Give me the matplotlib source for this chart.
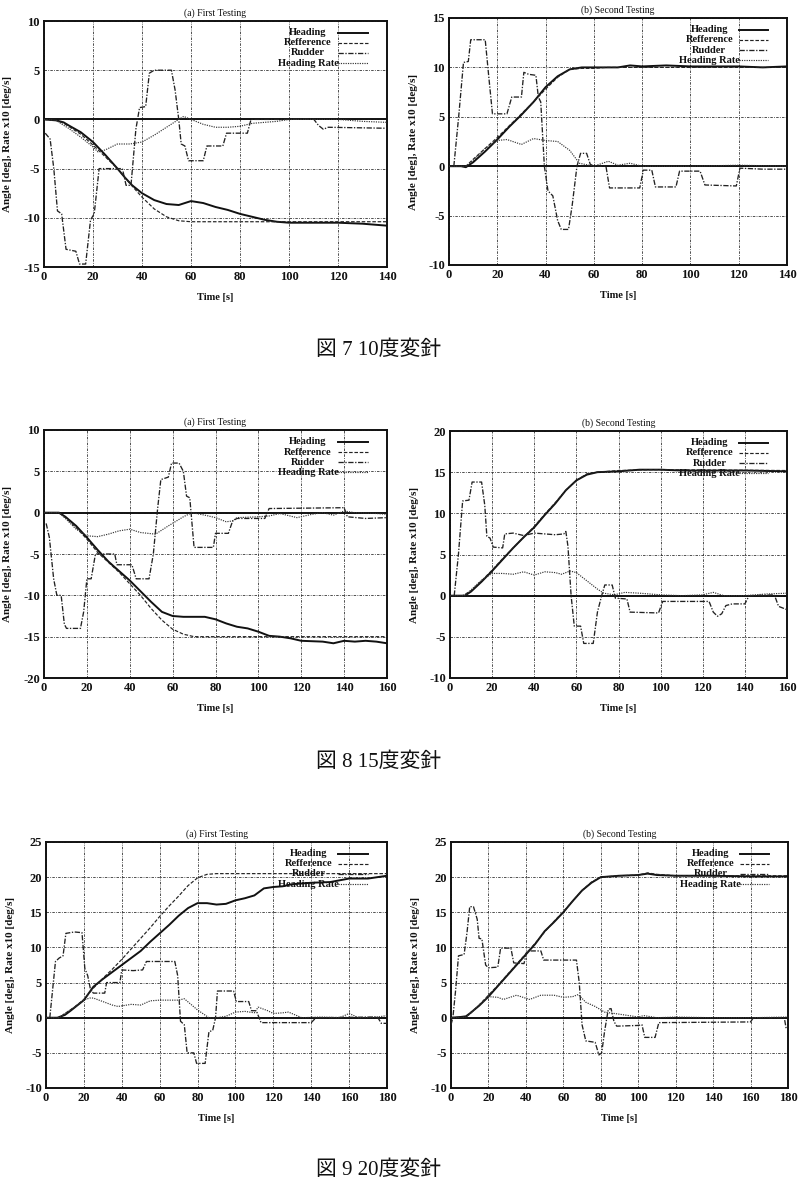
import matplotlib
matplotlib.use("Agg")
import matplotlib.pyplot as plt

plt.rcParams['font.family'] = ['Liberation Serif', 'Noto Sans CJK JP', 'DejaVu Sans']
plt.rcParams['axes.unicode_minus'] = False

# ---------------- DATA ----------------
# Panel 1: 10 deg, first testing
p1_head_t = [0,5,8,10,15,20,25,30,33,36,40,45,50,55,60,65,70,75,80,85,90,95,100,110,120,130,140]
p1_head_y = [0,-0.1,-0.3,-0.6,-1.3,-2.3,-3.6,-5.0,-5.9,-6.7,-7.5,-8.2,-8.6,-8.7,-8.3,-8.5,-8.9,-9.2,-9.6,-9.9,-10.2,-10.4,-10.5,-10.5,-10.5,-10.6,-10.8]
p1_ref_t = [0,5,8,10,15,20,25,30,35,40,45,50,55,60,80,100,120,140]
p1_ref_y = [0,-0.1,-0.4,-0.7,-1.5,-2.6,-3.8,-5.0,-6.5,-7.9,-9.1,-9.9,-10.3,-10.4,-10.4,-10.4,-10.4,-10.4]
p1_rud_t = [0.5,2.5,4,5.5,7.2,9,13,14.5,17,19,20.5,22.5,32,33.5,35.5,37.5,39,41.5,43,45,52,53.5,55,56,57.5,59,65,66.5,73,74.5,83,84.5,100,110,112,114,116,140]
p1_rud_y = [-1.4,-2.0,-5,-9.3,-9.6,-13.2,-13.4,-14.7,-14.7,-10.2,-9.6,-5.0,-5.0,-6.7,-6.7,-1,1.2,1.3,4.7,5.0,5.0,3,0,-2.5,-2.7,-4.2,-4.2,-2.7,-2.7,-1.4,-1.4,0,0,0.05,-0.6,-1.0,-0.8,-0.9]
p1_rate_t = [0,5,8,10,15,20,22,25,30,35,40,45,50,55,57,60,65,70,75,80,85,90,95,100,110,120,130,140]
p1_rate_y = [0,-0.1,-0.6,-0.9,-1.8,-2.8,-3.3,-3.1,-2.5,-2.5,-2.3,-1.6,-0.8,0,0.3,0,-0.5,-0.8,-0.8,-0.7,-0.4,-0.3,-0.2,0,0,0,-0.2,-0.3]

# Panel 2: 10 deg, second testing
p2_head_t = [0,5,7,10,15,20,25,30,35,40,45,50,55,60,70,75,80,90,100,120,130,140]
p2_head_y = [0,0,-0.1,0.4,1.5,2.7,4.0,5.2,6.5,8.0,9.1,9.8,10.0,10.0,10.0,10.2,10.1,10.2,10.1,10.1,10.0,10.1]
p2_ref_t = [0,7,10,15,20,25,30,35,40,45,50,55,60,65,140]
p2_ref_y = [0,0,0.7,1.8,2.9,4.1,5.3,6.5,7.8,9.0,9.8,9.9,9.9,10,10]
p2_rud_t = [2,4,6,8,9,15,16.5,18,24,26,30,31,33,36,37,38,39.5,41,43,45,46.5,49.5,51,53,54.5,57,58.5,60,65,66.5,79,80.5,84,85.5,94,95.5,104,106,119,120.5,130,140]
p2_rud_y = [0,5,10.5,10.6,12.8,12.8,9,5.3,5.3,7,7,9.5,9.3,9.2,7,6.5,0,-2.5,-3.0,-5.5,-6.4,-6.4,-4,0,1.3,1.3,0.2,0,0,-2.2,-2.2,-0.4,-0.4,-2.1,-2.1,-0.5,-0.5,-1.9,-2.0,-0.2,-0.3,-0.3]
p2_rate_t = [0,7,10,15,20,24,30,35,40,45,50,54,60,66,70,75,80,100,120,140]
p2_rate_y = [0,0,0.6,1.8,2.6,2.7,2.2,2.8,2.6,2.5,1.6,0.3,0,0.5,0.1,0.3,0,0,0.1,0]

# Panel 3: 15 deg, first testing
p3_head_t = [0,7,10,15,20,25,30,33,40,45,50,55,60,65,75,80,85,90,95,100,105,110,115,120,130,135,140,145,150,155,160]
p3_head_y = [0,0,-0.5,-1.6,-3.0,-4.5,-5.9,-6.6,-8.2,-9.5,-10.8,-12.0,-12.5,-12.6,-12.6,-12.9,-13.4,-13.8,-14.0,-14.4,-14.9,-15.0,-15.2,-15.5,-15.6,-15.8,-15.5,-15.6,-15.5,-15.6,-15.8]
p3_ref_t = [0,7,10,15,20,25,30,35,40,45,50,55,60,65,70,160]
p3_ref_y = [0,0,-0.6,-1.8,-3.2,-4.8,-6.0,-7.2,-8.6,-10.0,-11.6,-13.0,-14.1,-14.7,-15.0,-15.0]
p3_rud_t = [1,2.5,4.5,6,8,9.5,10.5,17,18.5,20,22,24,33,34,41,43,49,51,53,54.5,58,59.5,63,65,66.5,68,70,79,80,86,88,90,103,105,140,141.5,150,160]
p3_rud_y = [-1.3,-3,-8,-10,-10,-13.5,-14,-14,-12,-8,-8,-5,-5,-6.3,-6.3,-8,-8,-5,0.5,4,4.3,6,6,5,2,1.8,-4.2,-4.2,-2.5,-2.5,-1,-0.7,-0.7,0.5,0.6,-0.5,-0.7,-0.6]
p3_rate_t = [0,7,10,15,20,25,30,35,40,45,52,58,65,69,75,80,85,88,90,100,105,110,118,125,130,135,140,145,155,160]
p3_rate_y = [0,0,-0.7,-2.0,-2.8,-2.9,-2.6,-2.2,-2.0,-2.4,-2.6,-1.6,-0.5,0,-0.3,-0.6,-1.1,-1.0,-0.6,-0.5,-0.4,-0.1,-0.6,-0.2,0,-0.3,0.2,0,-0.1,-0.2]

# Panel 4: 15 deg, second testing
p4_head_t = [0,7,10,15,20,25,30,35,40,45,50,55,60,65,70,80,90,100,110,120,140,160]
p4_head_y = [0,0,0.5,1.7,3.0,4.4,5.8,7.1,8.3,9.8,11.2,12.8,14.0,14.7,15.0,15.1,15.3,15.3,15.2,15.2,15.2,15.1]
p4_ref_t = [0,6,10,15,20,25,30,35,40,45,50,55,60,65,70,80,95,100,160]
p4_ref_y = [0,0,0.6,1.8,3.1,4.5,5.8,7.1,8.4,9.9,11.3,12.8,14.0,14.8,15.0,15.2,15.3,15.3,15.2]
p4_rud_t = [2,4,6,9,10.5,15,16.5,17.5,19,20.5,25,26,30,35,40,45,50,54,55,56,57.5,59,62,63.5,68,70,72,73.5,77,78.5,84,85.5,99,101,123,125,127,129,131,134,140,142,154,156,160]
p4_rud_y = [0,5,11.5,11.6,13.8,13.8,11,7.2,7,5.9,5.8,7.5,7.6,7.3,7.6,7.5,7.4,7.5,7.8,6,0,-3.7,-3.7,-5.8,-5.8,-2,0,1.3,1.3,-0.3,-0.4,-2.0,-2.1,-0.7,-0.7,-2.0,-2.5,-2.2,-1.2,-1.0,-1.0,0,0.1,-1.3,-1.7]
p4_rate_t = [0,7,10,15,20,25,30,35,40,45,50,53,57,60,65,70,73,78,83,90,100,110,120,125,130,140,150,160]
p4_rate_y = [0,0,0.7,1.9,2.7,2.7,2.6,2.9,2.5,2.9,2.8,2.6,3.0,2.8,1.8,0.8,0.3,0.1,0.4,0.3,0.1,0,0.1,0.4,0,0,0.2,0.3]

# Panel 5: 20 deg, first testing
p5_head_t = [0,6,10,13,20,25,30,35,40,45,50,55,60,65,70,75,80,85,90,95,100,105,110,115,120,125,130,140,150,160,170,180]
p5_head_y = [0,0,0.4,1.0,2.5,4.4,5.5,6.5,7.5,8.5,9.5,10.8,12.0,13.2,14.5,15.6,16.3,16.3,16.1,16.2,16.7,17.0,17.4,18.4,18.6,18.7,19.0,19.2,19.3,19.8,19.8,20.2]
p5_ref_t = [0,7,10,15,20,25,30,35,40,45,50,55,60,65,70,75,80,85,90,180]
p5_ref_y = [0,0,0.6,1.5,2.6,4.2,5.6,6.9,8.3,9.8,11.3,12.8,14.4,15.9,17.3,18.8,19.9,20.4,20.5,20.5]
p5_rud_t = [2,3.5,5,7,9,10.5,15,19,20.5,22,23.5,25,31,32,39,40,46,51,53,68,69.5,71,73,74.5,78,79.5,84,86,88,89.5,90.5,99,100.5,107,108.5,111,113.5,140,142.5,175,177,180]
p5_rud_y = [0,4,8,8.5,8.8,12,12.2,12.1,7,6,4,3.5,3.5,5,5,6.8,6.7,6.8,8,8,6,-0.5,-1,-5,-5,-6.5,-6.5,-2,-1.8,0,3.8,3.8,2.3,2.3,1,1,-0.7,-0.7,0,0.1,-0.8,-0.8]
p5_rate_t = [0,7,10,15,20,23,25,30,35,38,45,50,55,60,70,73,80,86,90,95,100,105,110,112,117,120,125,128,135,145,155,160,165,175,180]
p5_rate_y = [0,0,0.6,1.5,2.5,2.8,2.8,2.3,1.8,1.6,1.9,1.8,2.4,2.5,2.5,2.7,1.1,0,0,0.2,0.8,0.9,0.7,1.5,1.0,0.6,0.7,0.8,0,0.1,0,0.6,0,0.1,0.3]

# Panel 6: 20 deg, second testing
p6_head_t = [0,5,8,10,15,20,25,30,35,40,45,50,55,60,65,70,75,80,90,100,105,110,120,140,160,180]
p6_head_y = [0,0.1,0.2,0.6,1.7,3.0,4.5,6.0,7.5,9.0,10.5,12.3,13.6,15.0,16.6,18.1,19.2,20.0,20.2,20.3,20.5,20.3,20.2,20.2,20.1,20.1]
p6_ref_t = [0,8,10,15,20,25,30,35,40,45,50,55,60,65,70,75,80,90,100,105,110,120,180]
p6_ref_y = [0,0.1,0.5,1.8,3.2,4.6,6.1,7.6,9.1,10.6,12.2,13.7,15.1,16.6,18.1,19.3,20.0,20.2,20.3,20.6,20.4,20.2,20.2]
p6_rud_t = [0,1,2.5,4,7,8.5,10,12,14,15,16.5,18.5,20,25,26.5,32,33.5,39,40.5,48,49.5,67,68.5,70,72,77,79,80.5,82,84,85.5,87,88.5,100,102,103.5,109,111,160,161.5,178,179,180]
p6_rud_y = [-1,0,4,8.8,9.0,12,15.8,15.8,14,11.3,11.2,7.5,7.1,7.2,9.9,9.9,7.8,7.7,9.5,9.5,8.2,8.2,5,-1,-3.3,-3.5,-5.3,-5.0,-2,1.2,1.3,-0.5,-1.2,-1.1,-1.0,-2.8,-2.8,-0.7,-0.6,0,0,-1.5,-1.3]
p6_rate_t = [0,8,10,15,20,25,28,35,42,48,55,60,65,68,72,77,82,90,100,103,110,120,140,160,180]
p6_rate_y = [0,0.1,0.6,1.8,3.0,2.9,2.6,3.2,2.6,3.2,3.2,2.9,3.0,3.3,2.2,1.6,0.8,0.5,0.1,0.3,0,0.1,0,0,0.1]

titles = ["(a) First Testing", "(b) Second Testing"] * 3
xmaxes = [140, 140, 160, 160, 180, 180]
ylims = [(-15, 10), (-10, 15), (-20, 10), (-10, 20), (-10, 25), (-10, 25)]
legend_labels = ["Heading", "Refference", "Rudder", "Heading Rate"]
captions = ["図 7 10度変針", "図 8 15度変針", "図 9 20度変針"]

panels = [
    (p1_head_t, p1_head_y, p1_ref_t, p1_ref_y, p1_rud_t, p1_rud_y, p1_rate_t, p1_rate_y),
    (p2_head_t, p2_head_y, p2_ref_t, p2_ref_y, p2_rud_t, p2_rud_y, p2_rate_t, p2_rate_y),
    (p3_head_t, p3_head_y, p3_ref_t, p3_ref_y, p3_rud_t, p3_rud_y, p3_rate_t, p3_rate_y),
    (p4_head_t, p4_head_y, p4_ref_t, p4_ref_y, p4_rud_t, p4_rud_y, p4_rate_t, p4_rate_y),
    (p5_head_t, p5_head_y, p5_ref_t, p5_ref_y, p5_rud_t, p5_rud_y, p5_rate_t, p5_rate_y),
    (p6_head_t, p6_head_y, p6_ref_t, p6_ref_y, p6_rud_t, p6_rud_y, p6_rate_t, p6_rate_y),
]

# ---------------- LAYOUT ----------------
W, H = 800, 1185
boxes = [(44, 387, 21, 267), (449, 787, 18, 265),
         (44, 387, 430, 678), (450, 787, 431, 678),
         (46, 387, 842, 1088), (451, 788, 842, 1088)]
caption_y = [350, 762, 1170]

styles = [
    dict(color='#111111', lw=1.4, ls='-'),
    dict(color='#222222', lw=0.85, ls=(0, (3, 1.5))),
    dict(color='#222222', lw=0.95, ls=(0, (4, 1.2, 1, 1.2))),
    dict(color='#333333', lw=0.85, ls=(0, (1, 1))),
]

fig = plt.figure(figsize=(W / 100, H / 100), dpi=100)
fig.patch.set_facecolor('white')

for i, (box, data) in enumerate(zip(boxes, panels)):
    l, r, t, b = box
    ax = fig.add_axes([l / W, 1 - b / H, (r - l) / W, (b - t) / H])
    ymin, ymax = ylims[i]
    ax.set_xlim(0, xmaxes[i])
    ax.set_ylim(ymin, ymax)
    ax.set_xticks(list(range(0, xmaxes[i] + 1, 20)))
    ax.set_yticks(list(range(ymin, ymax + 1, 5)))
    ax.grid(True, color='#333333', lw=0.6, ls=(0, (3, 1.5, 1, 1.5)))
    ax.axhline(0, color='#111111', lw=1.4, zorder=2)
    for k in range(4):
        ax.plot(data[2 * k], data[2 * k + 1], zorder=3, **styles[k])
    for sp in ax.spines.values():
        sp.set_linewidth(1.4)
        sp.set_color('#111111')
    ax.tick_params(direction='in', length=0, labelsize=9, pad=3, colors='#111111')
    for lab in ax.get_xticklabels() + ax.get_yticklabels():
        lab.set_fontweight('bold')
    ax.set_title(titles[i], fontsize=7, pad=4, color='#111111')
    ax.set_xlabel("Time [s]", fontsize=7.5, fontweight='bold', color='#111111')
    ax.set_ylabel("Angle [deg], Rate x10 [deg/s]", fontsize=8, fontweight='bold', color='#111111')
    ax.xaxis.set_label_coords(0.5, -0.105)
    ax.yaxis.set_label_coords(-0.092, 0.5)
    # legend (no frame, centered text, sample to the right)
    for k, lab in enumerate(legend_labels):
        yy = 0.952 - k * 0.041
        ax.text(0.77, yy, lab, transform=ax.transAxes, ha='center', va='center',
                fontsize=7.5, fontweight='bold', color='#111111', zorder=5)
        ax.plot([0.857, 0.945], [yy, yy], transform=ax.transAxes, zorder=5, **styles[k])

for j, cap in enumerate(captions):
    fig.text(379 / W, 1 - caption_y[j] / H, cap, ha='center', va='center',
             fontsize=15, color='#111111')

fig.savefig("out.png", dpi=100, facecolor='white')
